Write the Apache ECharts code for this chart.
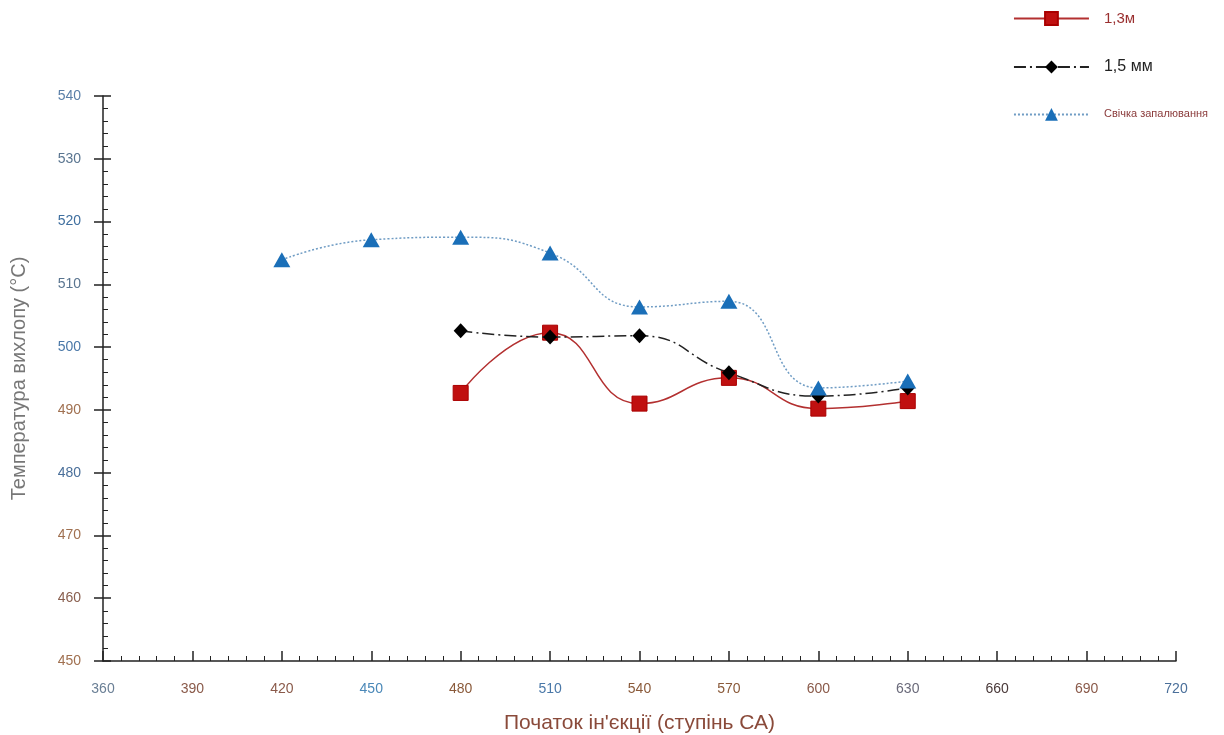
<!DOCTYPE html>
<html><head><meta charset="utf-8">
<script src="https://cdn.jsdelivr.net/npm/echarts@6/dist/echarts.min.js"></script>
<style>html,body{margin:0;padding:0;background:#fff}#c{width:1224px;height:735px}</style>
</head><body><div id="c"></div>
<script>
const injection = [420, 450, 480, 510, 540, 570, 600, 630];
const s13 = [null, null, 492.7, 502.3, 491.0, 495.1, 490.2, 491.4];
const s15 = [null, null, 502.6, 501.6, 501.8, 495.9, 492.2, 493.5];
const spark = [513.9, 517.1, 517.5, 515.0, 506.4, 507.3, 493.5, 494.6];
const seriesNames = ['1,3м', '1,5 мм', 'Свічка запалювання'];
const xLabelColors = {360:'#6a7f95',390:'#8a5a4a',420:'#8a5a4a',450:'#4a88b8',480:'#8a5a3a',510:'#4a78a8',540:'#8a5a3a',570:'#8a5a3a',600:'#8a5a4a',630:'#6a6a7a',660:'#4a3a3a',690:'#8a5a4a',720:'#4a6f9a'};
const yLabelColors = {540:'#5a7fa8',530:'#5a7590',520:'#3f6f9f',510:'#5a7590',500:'#4a78a8',490:'#a07050',480:'#4a6f9a',470:'#a07050',460:'#8a6050',450:'#a07050'};

function pairs(arr){ return injection.map((x,i)=>[x,arr[i]]).filter(p=>p[1]!==null); }

const chart = echarts.init(document.getElementById('c'));
chart.setOption({
  animation:false,
  backgroundColor:'#fff',
  textStyle:{fontFamily:'Liberation Sans, Arial, sans-serif'},
  grid:{left:103,right:48,top:96,bottom:74,containLabel:false,outerBoundsMode:'none'},
  legend:{
    right:11, top:6, orient:'vertical', itemGap:33, itemWidth:75, itemHeight:16,
    data:[
      {name:seriesNames[0], textStyle:{fontSize:15,color:'#9a3030',padding:[0,0,0,10]}},
      {name:seriesNames[1], textStyle:{fontSize:16,color:'#222',padding:[0,0,0,10]}},
      {name:seriesNames[2], textStyle:{fontSize:11,color:'#8a3a3a',padding:[0,0,0,10]}}
    ]
  },
  xAxis:{
    type:'value', min:360, max:720, interval:30,
    name:"Початок ін'єкції (ступінь СА)", nameLocation:'middle', nameGap:52,
    nameTextStyle:{fontSize:21,color:'#8a4a3a'},
    axisLine:{lineStyle:{color:'#222',width:1.5}},
    axisTick:{inside:true,length:10,lineStyle:{color:'#222',width:1.5}},
    minorTick:{show:true,splitNumber:5,length:5,lineStyle:{color:'#222'}},
    axisLabel:{margin:21,fontSize:14,color:(v)=>xLabelColors[v]||'#666'},
    splitLine:{show:false}
  },
  yAxis:[{
    type:'value', min:450, max:540, interval:10,
    name:'Температура вихлопу (°C)', nameLocation:'middle', nameGap:74,
    nameTextStyle:{fontSize:20,color:'#777'},
    axisLine:{lineStyle:{color:'#222',width:1.5}},
    axisTick:{inside:true,length:8,lineStyle:{color:'#222',width:1.5}},
    minorTick:{show:true,splitNumber:5,length:5,lineStyle:{color:'#222'}},
    axisLabel:{margin:22,fontSize:14,color:(v)=>yLabelColors[v]||'#666'},
    splitLine:{show:false}
  },{
    type:'value', min:450, max:540, interval:10, position:'left', offset:0,
    axisLine:{show:false},
    axisTick:{inside:false,length:9,lineStyle:{color:'#222',width:1.5}},
    axisLabel:{show:false},
    splitLine:{show:false}
  }],
  series:[
    {name:seriesNames[0], type:'line', smooth:true, data:pairs(s13),
     symbol:'rect', symbolSize:15, itemStyle:{color:'#c01010',borderColor:'#a00',borderWidth:1},
     lineStyle:{color:'#b33030',width:1.5}, z:3},
    {name:seriesNames[1], type:'line', smooth:true, data:pairs(s15),
     symbol:'diamond', symbolSize:[14,15], itemStyle:{color:'#000'},
     lineStyle:{color:'#222',width:1.5,type:[12,4,2,4]}, z:4},
    {name:seriesNames[2], type:'line', smooth:true, data:pairs(spark),
     symbol:'triangle', symbolSize:[17,15], itemStyle:{color:'#1a6fb8'},
     lineStyle:{color:'#6f9cc4',width:1.5,type:[2,2]}, z:5}
  ]
});
</script></body></html>
